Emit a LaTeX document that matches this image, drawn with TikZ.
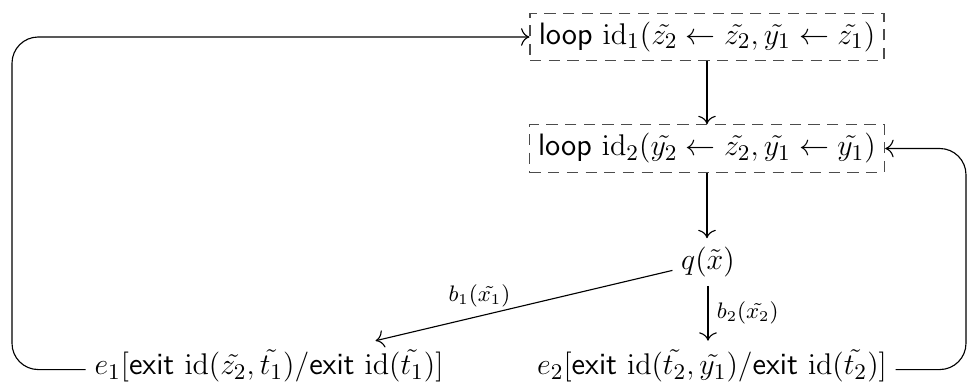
\documentclass[tikz,border=0pt]{standalone}
\usepackage{amsmath, amssymb}
\usetikzlibrary{positioning, arrows.meta, calc}

\begin{document}
\begin{tikzpicture}[x=0.1409cm, y=-0.1409cm, >={To[scale=1.3]},
  every node/.style={font=\fontsize{12.4}{15}\selectfont},
  loopbox/.style={draw=black!70, line width=0.5pt, dash pattern=on 4.5pt off 3pt, inner sep=3.5pt},
  edge/.style={->, line width=0.45pt},
  back/.style={->, line width=0.45pt, rounded corners=3.7mm},
  elabel/.style={font=\fontsize{8.6}{10}\selectfont}]
  \useasboundingbox (0,0) rectangle (97.3,39.2);
  %% loop headers
  \node[loopbox] (loopA) at (70.7,3.7) {$\textsf{loop}\ \mathrm{id}_1(\tilde{z_2} \leftarrow \tilde{z_2}, \tilde{y_1} \leftarrow \tilde{z_1})$};
  \node[loopbox] (loopB) at (70.7,14.85) {$\textsf{loop}\ \mathrm{id}_2(\tilde{y_2} \leftarrow \tilde{z_2}, \tilde{y_1} \leftarrow \tilde{y_1})$};
  %% branch and exits
  \node (q) at (70.8,26.2) {$q(\tilde{x})$};
  \node (exA) at (26.9,36.6) {$e_1[\textsf{exit}\ \mathrm{id}(\tilde{z_2}, \tilde{t_1})/\textsf{exit}\ \mathrm{id}(\tilde{t_1})]$};
  \node (exB) at (71.2,36.6) {$e_2[\textsf{exit}\ \mathrm{id}(\tilde{t_2}, \tilde{y_1})/\textsf{exit}\ \mathrm{id}(\tilde{t_2})]$};
  \coordinate (railA) at (1.2,20);
  \coordinate (railB) at (96.6,25);
  \draw[edge] (loopA) -- (loopB);
  \draw[edge] (loopB) -- (loopB |- q.north);
  \draw[edge] (q) -- node[elabel, pos=0.65, above] {$b_1(\tilde{x_1})$} (exA);
  \draw[edge] (q) -- node[elabel, right] {$b_2(\tilde{x_2})$} (q |- exB.north);
  %% back edges
  \draw[back] (exA.mid west) -| (railA) |- (loopA.west);
  \draw[back] (exB.mid east) -| (railB) |- (loopB.east);
\end{tikzpicture}
\end{document}
